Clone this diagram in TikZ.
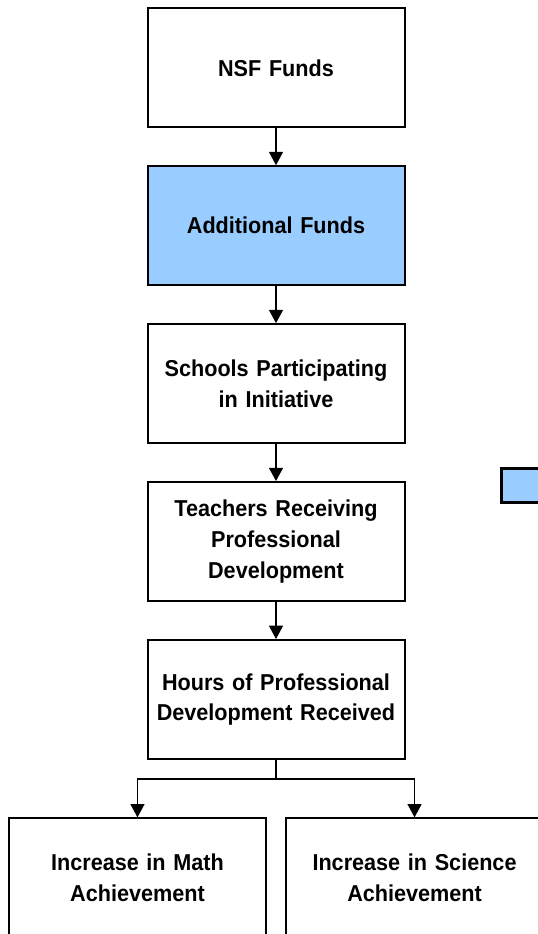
\documentclass[tikz,border=0pt]{standalone}
\usepackage{fontspec}
\newfontfamily\chartfont{Liberation Sans}[FakeStretch=0.94]
\usepackage{tikz}
\usetikzlibrary{matrix,positioning,arrows.meta}
\definecolor{fundblue}{HTML}{99CCFF}
\tikzset{
  stage/.style={draw, line width=1.5pt, minimum width=192.75pt, minimum height=89.25pt,
    text width=186pt, align=center, inner sep=2pt,
    font=\chartfont\bfseries\fontsize{17.25}{23}\selectfont},
  extra/.style={stage, fill=fundblue},
  flow/.style={-{Triangle[width=10.5pt,length=10pt]}, line width=1pt}
}

\begin{document}
\begin{tikzpicture}[x=0.75pt,y=-0.75pt,ampersand replacement=\&]
\clip (0,0) rectangle (538,934);
\matrix (m) [matrix of nodes, nodes={stage}, row sep=27.7pt,
  matrix anchor=m-1-1.center] at (276,67.8)
{ NSF Funds \\
  |[extra]| Additional Funds \\
  Schools Participating\break in Initiative \\
  Teachers Receiving\break Professional\break Development \\
  Hours of Professional\break Development Received \\
} ;

\node [stage, below=43pt of m-5-1, xshift=-103.9pt] (math) {Increase in Math\\Achievement};
\node [stage, below=43pt of m-5-1, xshift=103.9pt] (science) {Increase in Science\\Achievement};
\coordinate [below=14.25pt of m-5-1] (split);

% key box, cut off at the right
\node [extra, line width=2.25pt, text width=, minimum width=45pt, minimum height=25.5pt,
  anchor=north west] (key) at (500,467) {};

\path [flow]

(m-1-1)
edge
(m-2-1)

(m-2-1)
edge
(m-3-1)

(m-3-1)
edge
(m-4-1)

(m-4-1)
edge
(m-5-1)

;

\draw [flow] (m-5-1) -- (split) -| (math);
\draw [flow] (split) -| (science);
\end{tikzpicture}
\end{document}
